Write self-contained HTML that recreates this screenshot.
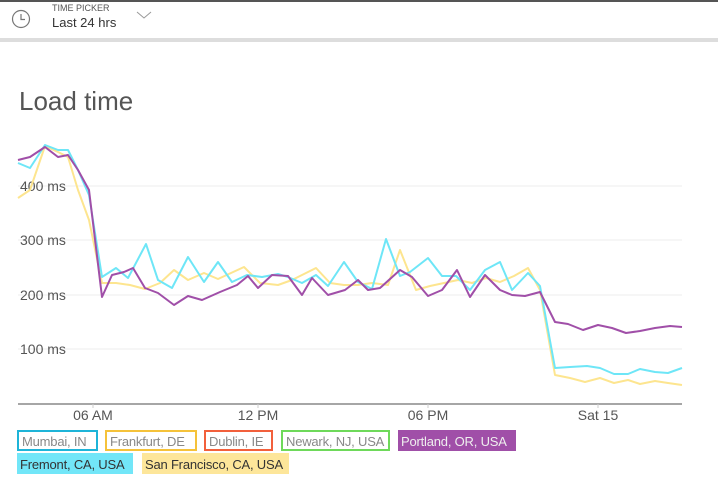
<!DOCTYPE html>
<html><head><meta charset="utf-8"><style>
body{margin:0;width:718px;height:494px;background:#fff;font-family:"Liberation Sans",sans-serif;position:relative;overflow:hidden}
.top{position:absolute;left:0;top:0;width:718px;height:2px;background:#555}
.bar{position:absolute;left:0;top:38px;width:718px;height:4px;background:#ddd}
.lg{position:absolute;font-size:13px;letter-spacing:-0.2px;padding:1px 3px;box-sizing:border-box;height:21px;line-height:17px;color:#888;white-space:nowrap;overflow:hidden}
</style></head><body>
<div class="top"></div>
<svg style="position:absolute;left:10px;top:8px" width="22" height="22"><circle cx="11" cy="11" r="8.5" fill="none" stroke="#777" stroke-width="1.2"/><path d="M11 6v5.5h4" fill="none" stroke="#777" stroke-width="1.2"/></svg>
<div style="position:absolute;left:52px;top:3px;font-size:9px;color:#555">TIME PICKER</div>
<div style="position:absolute;left:52px;top:15px;font-size:13px;color:#333">Last 24 hrs</div>
<svg style="position:absolute;left:136px;top:10px" width="16" height="10"><path d="M1 2l7 6 7-6" fill="none" stroke="#999" stroke-width="1"/></svg>
<div class="bar"></div>
<div style="position:absolute;left:19px;top:86px;font-size:26px;color:#555">Load time</div>
<svg style="position:absolute;left:0;top:0" width="718" height="494">
<g stroke="#eee" stroke-width="1"><line x1="18" x2="682" y1="186" y2="186"/><line x1="18" x2="682" y1="240" y2="240"/><line x1="18" x2="682" y1="295" y2="295"/><line x1="18" x2="682" y1="349" y2="349"/></g>
<line x1="18" x2="682" y1="404" y2="404" stroke="#888" stroke-width="1.5"/>
<g stroke="#ccc"><line x1="93" x2="93" y1="404" y2="408"/><line x1="258" x2="258" y1="404" y2="408"/><line x1="428" x2="428" y1="404" y2="408"/><line x1="598" x2="598" y1="404" y2="408"/></g>
<g font-size="14" fill="#555"><text x="20" y="191">400 ms</text><text x="20" y="245">300 ms</text><text x="20" y="300">200 ms</text><text x="20" y="354">100 ms</text>
<text x="93" y="420" text-anchor="middle">06 AM</text><text x="258" y="420" text-anchor="middle">12 PM</text><text x="428" y="420" text-anchor="middle">06 PM</text><text x="598" y="420" text-anchor="middle">Sat 15</text></g>
<g fill="none" stroke-width="2" stroke-linejoin="round">
<polyline stroke="#fde58f" points="18,198 30,190 45,146 58,152 68,157 78,190 89,220 102,283 116,283 130,285 145,289 160,283 174,270 188,280 204,273 218,279 244,267 260,283 278,285 292,280 316,268 330,283 344,285 358,285 372,283 388,285 400,250 416,290 430,286 444,283 458,280 472,283 486,278 500,282 514,276 528,268 540,290 555,375 570,378 585,382 600,378 614,383 628,380 640,384 655,381 668,383 682,385"/>
<polyline stroke="#6ee6f7" points="18,163 30,168 45,145 58,150 68,150 78,170 89,195 102,277 116,268 128,278 146,244 158,280 172,288 188,257 204,282 218,262 232,282 247,275 262,277 278,274 288,277 302,283 316,275 328,286 344,262 358,282 372,289 386,239 400,276 410,272 428,258 442,276 456,276 470,290 485,270 500,262 512,290 528,273 540,286 555,368 570,367 587,366 600,368 614,374 628,374 640,369 655,372 668,373 682,368"/>
<polyline stroke="#a04fa8" points="18,160 30,157 45,147 58,157 68,155 78,170 89,190 102,297 112,275 124,272 133,268 145,288 158,293 174,305 188,296 202,300 220,292 237,285 248,276 258,288 272,275 288,276 302,295 312,278 328,295 345,290 358,280 368,290 380,288 400,270 412,277 428,296 442,290 457,270 470,297 485,275 500,290 512,295 525,296 540,292 555,322 568,324 583,330 598,325 612,328 626,333 640,331 655,328 670,326 682,327"/>
</g></svg>
<div class="lg" style="left:17px;top:430px;width:81px;border:2px solid #1eb4d8">Mumbai, IN</div>
<div class="lg" style="left:105px;top:430px;width:92px;border:2px solid #f5c23a">Frankfurt, DE</div>
<div class="lg" style="left:204px;top:430px;width:69px;border:2px solid #f2603c">Dublin, IE</div>
<div class="lg" style="left:281px;top:430px;width:109px;border:2px solid #6ed95a">Newark, NJ, USA</div>
<div class="lg" style="left:398px;top:430px;width:118px;background:#a04fa8;color:#eee;padding-top:3px">Portland, OR, USA</div>
<div class="lg" style="left:17px;top:453px;width:116px;background:#72e6f8;color:#333;padding-top:3px">Fremont, CA, USA</div>
<div class="lg" style="left:142px;top:453px;width:147px;background:#fde69a;color:#333;padding-top:3px">San Francisco, CA, USA</div>
</body></html>
